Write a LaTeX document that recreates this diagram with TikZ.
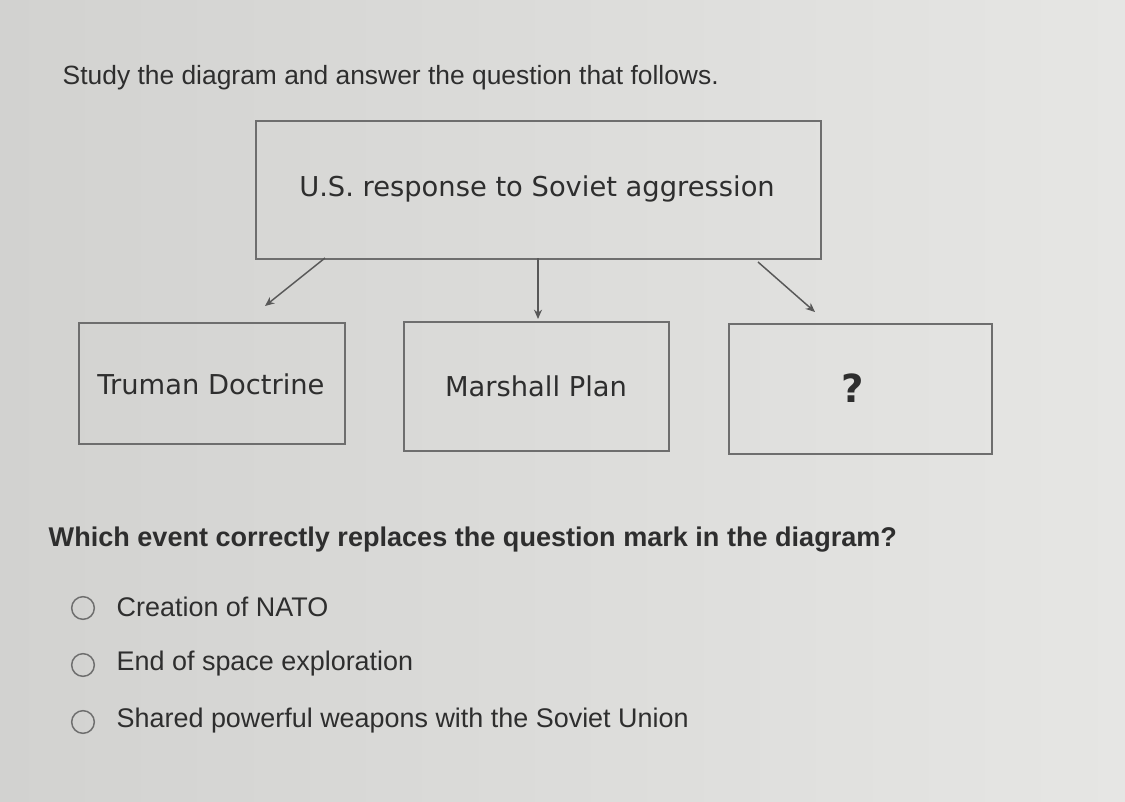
\documentclass[tikz,border=0pt]{standalone}
\usepackage{fontspec}
\setmainfont{Liberation Sans}
\newfontfamily\boxfont{DejaVu Sans}
\usetikzlibrary{arrows.meta}
\definecolor{bgl}{HTML}{D2D2D0}
\definecolor{bgr}{HTML}{E6E6E4}
\definecolor{ink}{HTML}{2E2E2E}
\definecolor{edge}{HTML}{6E6E6E}
\tikzset{
  card/.style={draw=edge, line width=1.3pt, inner sep=0pt, anchor=north west},
  cardtext/.style={font=\boxfont\fontsize{20.5}{24}\selectfont, text=ink},
  link/.style={draw=edge!80!black, line width=1.1pt, -{Stealth[length=7pt,width=6pt]}},
  radio/.style={circle, draw=edge, line width=1.1pt, minimum size=17pt, inner sep=0pt},
  opt/.style={font=\fontsize{20.2}{24}\selectfont, text=ink, anchor=west},
}
\begin{document}
\begin{tikzpicture}[x=0.75pt,y=-0.75pt]
\shade[left color=bgl, right color=bgr] (0,0) rectangle (1125,801);
\useasboundingbox (0,0) rectangle (1125,801);
\node[font=\fontsize{19.8}{23}\selectfont, text=ink, anchor=west] (head) at (58,78) {Study the diagram and answer the question that follows.};
\node[card, minimum width=423.75pt, minimum height=103.5pt] (top) at (255,120) {};
\node[cardtext] (toptxt) at (537,189) {U.S. response to Soviet aggression};
\node[card, minimum width=199.5pt, minimum height=90.75pt] (tru) at (78,322) {};
\node[cardtext] at (211,384) {Truman Doctrine};
\node[card, minimum width=198.75pt, minimum height=96.75pt] (mar) at (403,321) {};
\node[cardtext] at (536,386) {Marshall Plan};
\node[card, minimum width=197.25pt, minimum height=97.5pt] (que) at (728,323) {};
\node[font=\boxfont\bfseries\fontsize{29}{34}\selectfont, text=ink] at (853,388) {?};
\coordinate (l0) at (325,258); \coordinate (l1) at (265,306);
\coordinate (m0) at (538,258); \coordinate (m1) at (538,319);
\coordinate (r0) at (758,262); \coordinate (r1) at (815,312);
\draw[link] (l0) -- (l1);
\draw[link] (m0) -- (m1);
\draw[link] (r0) -- (r1);
\node[font=\bfseries\fontsize{20.3}{24}\selectfont, text=ink, anchor=west] (q) at (44,540) {Which event correctly replaces the question mark in the diagram?};
\node[radio] (c1) at (83,608) {};
\node[opt] (o1) at (112,607) {Creation of NATO};
\node[radio] (c2) at (83,665) {};
\node[opt] (o2) at (112,664) {End of space exploration};
\node[radio] (c3) at (83,722) {};
\node[opt] (o3) at (112,721) {Shared powerful weapons with the Soviet Union};
\end{tikzpicture}
\end{document}
